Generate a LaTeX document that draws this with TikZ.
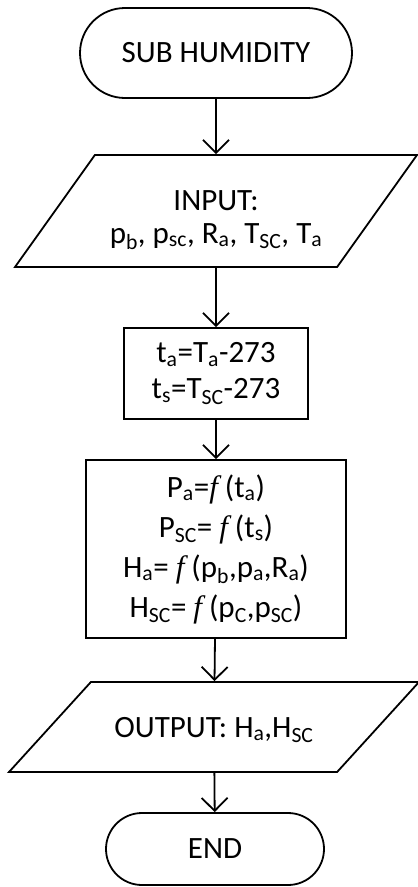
\documentclass[tikz,border=0pt]{standalone}
\usepackage{fontspec}
\setmainfont{Carlito}
\newfontfamily\funcfont{Liberation Serif}
\newcommand{\fn}{{\funcfont\itshape f}}
\usetikzlibrary{arrows.meta, shapes.geometric}

\tikzset{
  base/.style={draw, line width=1.8pt, align=center, inner sep=0pt,
    font=\fontsize{31}{38}\selectfont},
  terminal/.style={base, rectangle, rounded corners=#1},
  process/.style={base, rectangle},
  io/.style={base, trapezium, trapezium stretches body=true,
    inner xsep=0pt, inner ysep=#1},
  iotext/.style={align=center, font=\fontsize{31}{38}\selectfont}
}

\begin{document}
\begin{tikzpicture}[x=1pt, y=-1pt, line width=1.8pt,
    >={Straight Barb[length=13pt,width=26pt]}]
  \useasboundingbox (0,0) rectangle (418,887);

  \node[terminal=45pt, minimum width=272pt, minimum height=90pt] (start) at (216,53) {SUB HUMIDITY};
  \node[io=56pt, minimum width=402pt,
        trapezium left angle=54.5, trapezium right angle=125.5,
        label={[iotext, name=intext, yshift=-9pt]center:INPUT:\\[-5pt] p\textsubscript{b}, p\textsubscript{sc}, R\textsubscript{a}, T\textsubscript{SC}, T\textsubscript{a}}]
        (input) at (216,211) {};
  \node[process, minimum width=184pt, minimum height=91pt] (conv) at (216,373.5)
    {t\textsubscript{a}=T\textsubscript{a}-273\\[-2pt] t\textsubscript{s}=T\textsubscript{SC}-273};
  \node[process, minimum width=260pt, minimum height=178pt,
        font=\fontsize{31}{40}\selectfont] (calc) at (216,549)
    {P\textsubscript{a}=\fn\ (t\textsubscript{a})\\
     P\textsubscript{SC}= \fn\ (t\textsubscript{s})\\
     H\textsubscript{a}= \fn\ (p\textsubscript{b},p\textsubscript{a},R\textsubscript{a})\\
     H\textsubscript{SC}= \fn\ (p\textsubscript{C},p\textsubscript{SC})};
  \node[io=45pt, minimum width=410pt,
        trapezium left angle=47.7, trapezium right angle=132.3,
        label={[iotext, name=outtext, yshift=-3pt]center:OUTPUT: H\textsubscript{a},H\textsubscript{SC}}]
        (output) at (214,727) {};
  \node[terminal=36pt, minimum width=218pt, minimum height=72pt] (stop) at (215,849) {END};

  \draw[->] (start) -- (input);
  \draw[->] (input) -- (conv);
  \draw[->] (conv) -- (calc);
  \draw[->] (calc) -- (output);
  \draw[->] (output) -- (stop);
\end{tikzpicture}
\end{document}
